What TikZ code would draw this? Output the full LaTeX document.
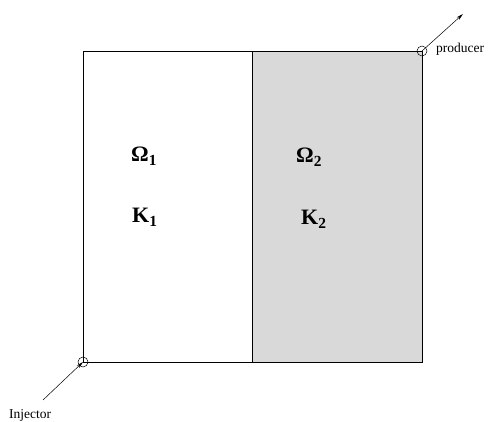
\documentclass[tikz,border=0pt]{standalone}
\usepackage{fontspec}
\setmainfont{Liberation Serif}
\usetikzlibrary{arrows.meta}
\begin{document}
\begin{tikzpicture}[x=1pt,y=-1pt,
  lab/.style={font=\fontsize{22}{23}\selectfont\bfseries, inner sep=0pt, anchor=base west},
  well/.style={circle, draw, minimum size=10pt, inner sep=0pt, line width=0.5pt},
  small/.style={font=\fontsize{13.5}{15}\selectfont, inner sep=0pt, anchor=base west},
  conn/.style={line width=0.5pt, -{Stealth[length=7pt,width=3.5pt]}}]
\useasboundingbox (0,0) rectangle (491,422);
\fill[gray!30] (252,51) rectangle (422,362);
\draw[line width=0.8pt] (83,51) rectangle (422,362);
\draw[line width=0.8pt] (252,51) -- (252,362);
\node[lab] (o1) at (131,162) {Ω\textsubscript{1}};
\node[lab] (k1) at (132,223) {K\textsubscript{1}};
\node[lab] (o2) at (296,163) {Ω\textsubscript{2}};
\node[lab] (k2) at (301,225) {K\textsubscript{2}};
\node[well] (inj) at (83,362) {};
\node[well] (prod) at (422,51) {};
\coordinate (injs) at (43,400);
\coordinate (prode) at (463,14);
\draw[conn] (injs) -- (inj.center);
\draw[conn] (prod.center) -- (prode);
\node[small] (injl) at (9,419) {Injector};
\node[small] (prodl) at (436,53) {producer};
\end{tikzpicture}
\end{document}
